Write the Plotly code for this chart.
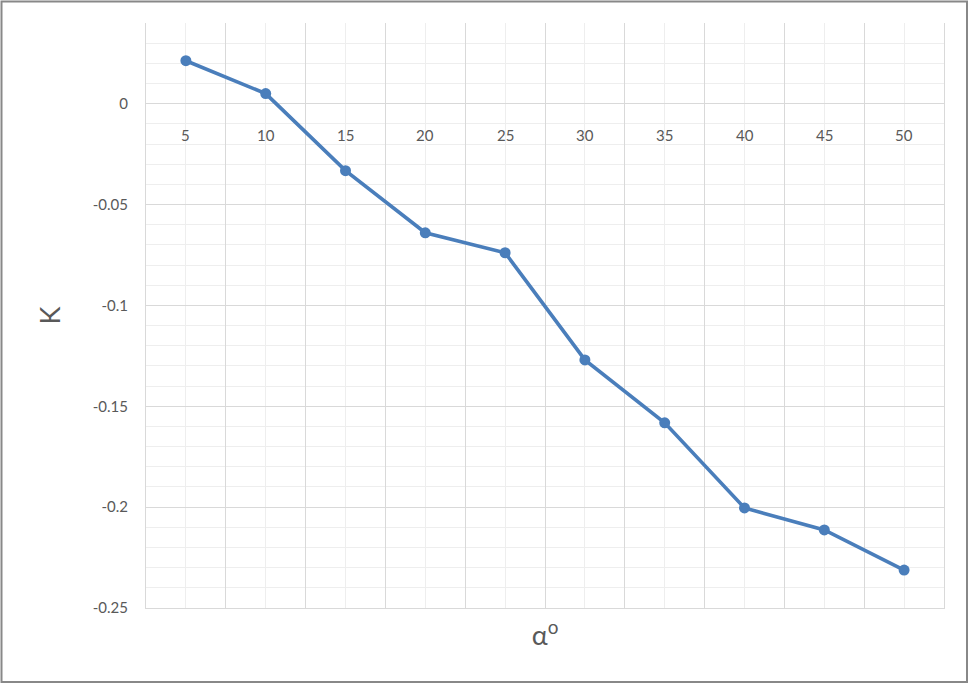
import plotly.graph_objects as go

alpha = [5, 10, 15, 20, 25, 30, 35, 40, 45, 50]
alpha_labels = ["5", "10", "15", "20", "25", "30", "35", "40", "45", "50"]
K = [0.0213, 0.0050, -0.0332, -0.0640, -0.0739, -0.1270, -0.1582, -0.2004, -0.2113, -0.2312]
k_ticks = [-0.25, -0.2, -0.15, -0.1, -0.05, 0]
k_tick_labels = ["-0.25", "-0.2", "-0.15", "-0.1", "-0.05", "0"]

W, H = 969, 684
ml, mr, mt, mb = 146, 25, 23, 76
pw, ph = W - ml - mr, H - mt - mb

font_family = "Lato, 'Open Sans', sans-serif"
gray = "#595959"

fig = go.Figure()
fig.add_trace(go.Scatter(
    x=alpha, y=K, mode="lines+markers",
    line=dict(color="#4a7ebb", width=3.6),
    marker=dict(color="#4a7ebb", size=11),
    showlegend=False, hoverinfo="skip",
))

annotations = [
    dict(x=a, y=0, xref="x", yref="y", text=lab, showarrow=False,
         yanchor="middle", yshift=-31,
         font=dict(family=font_family, size=15, color=gray))
    for a, lab in zip(alpha, alpha_labels)
]

fig.update_layout(
    width=W, height=H,
    margin=dict(l=ml, r=mr, t=mt, b=mb, autoexpand=False),
    paper_bgcolor="white", plot_bgcolor="white",
    font=dict(family=font_family, color=gray),
    annotations=annotations,
    shapes=[dict(
        type="rect", xref="paper", yref="paper",
        x0=(1.5 - ml) / pw, x1=(W - 2 - ml) / pw,
        y0=-(H - 2 - (mt + ph)) / ph, y1=1 + (mt - 1.5) / ph,
        line=dict(color="#888888", width=2), fillcolor="rgba(0,0,0,0)", layer="above",
    )],
)

fig.update_xaxes(
    range=[2.5, 52.5], tick0=2.5, dtick=5, showticklabels=False, ticks="",
    showgrid=True, gridcolor="#d9d9d9", gridwidth=1,
    minor=dict(tick0=2.5, dtick=2.5, showgrid=True, gridcolor="#eeeeee", gridwidth=1),
    showline=True, linecolor="#d9d9d9", linewidth=1, mirror=False,
    zeroline=False,
    title=dict(text="α<sup>o</sup>", font=dict(family=font_family, size=27, color=gray), standoff=18),
)
fig.update_yaxes(
    range=[-0.25, 0.04], tickmode="array", tickvals=k_ticks, ticktext=k_tick_labels,
    showgrid=True, gridcolor="#d9d9d9", gridwidth=1,
    minor=dict(tickmode="linear", tick0=0, dtick=0.01, showgrid=True, gridcolor="#eeeeee", gridwidth=1),
    showline=True, linecolor="#d9d9d9", linewidth=1, mirror=True,
    zeroline=False, ticks="", ticklabelstandoff=14,
    tickfont=dict(family=font_family, size=15, color=gray),
    title=dict(text="K", font=dict(family=font_family, size=27, color=gray), standoff=24),
)

fig.write_html("out.html", config={"displayModeBar": False},
               post_script="document.body.style.margin='0';document.body.style.padding='0';")
